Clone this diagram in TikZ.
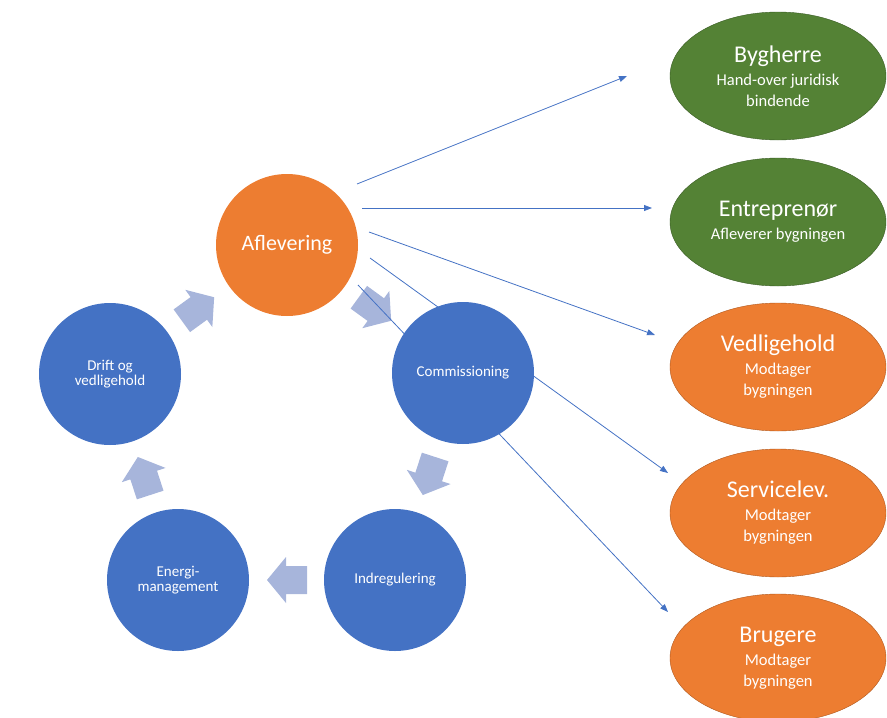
\documentclass[tikz,border=0pt]{standalone}
\usepackage{fontspec}
\setmainfont{Carlito}
\usetikzlibrary{shapes.geometric,arrows.meta}

\definecolor{phaseblue}{HTML}{4472C4}
\definecolor{phaseorange}{HTML}{ED7D31}
\definecolor{rolegreen}{HTML}{548235}
\definecolor{rolegreenline}{HTML}{3A5C25}
\definecolor{roleorangeline}{HTML}{B0591F}
\definecolor{flowblue}{RGB}{167,181,219}

\newcommand{\roletitle}[1]{{\fontsize{24}{24}\selectfont #1}}

\tikzset{
  phase/.style={circle, fill=phaseblue, minimum size=142, inner sep=0, text=white,
    align=center, font=\fontsize{15}{15}\selectfont},
  role/.style={ellipse, minimum width=216, minimum height=128, inner sep=0, text=white,
    align=center, font=\fontsize{16.5}{21}\selectfont},
  flow/.pic={\fill[flowblue] (-20,-14) -- (1,-14) -- (1,-23) -- (20,0) -- (1,23)
    -- (1,14) -- (-20,14) -- cycle;},
  link/.style={draw=phaseblue, line width=0.8pt, -{Triangle[length=8pt,width=6pt]}}
}

\begin{document}
\begin{tikzpicture}[x=1pt,y=-1pt]
\useasboundingbox (0,0) rectangle (887,718);

% Block arrows of the cycle
\pic[rotate=-36]  (f1) at (375,309) {flow};
\pic[rotate=-108] (f2) at (429,476) {flow};
\pic[rotate=180]  (f3) at (287,580) {flow};
\pic[rotate=108]  (f4) at (144,476) {flow};
\pic[rotate=36]   (f5) at (198,309) {flow};

% Ends of the hand-over lines
\coordinate (s1) at (357,184); \coordinate (e1) at (627,76);
\coordinate (s2) at (362,208); \coordinate (e2) at (652,208);
\coordinate (s3) at (369,232); \coordinate (e3) at (655,335);
\coordinate (s4) at (370,258); \coordinate (e4) at (668,473);
\coordinate (s5) at (358,285); \coordinate (e5) at (668,612);

\draw[link] (s1) -- (e1);
\draw[link] (s2) -- (e2);
\draw[link] (s3) -- (e3);
\draw[link] (s4) -- (e4);
\draw[link] (s5) -- (e5);

% Cycle of phases
\node[phase, fill=phaseorange, font=\fontsize{22}{22}\selectfont] (aflev) at (287,245) {Aflevering};
\node[phase] (comm)   at (463,373) {Commissioning};
\node[phase] (indreg) at (395,580) {Indregulering};
\node[phase] (energi) at (178,580) {Energi-\\management};
\node[phase] (drift)  at (110,374) {Drift og\\vedligehold};

% Roles on the right
\node[role, fill=rolegreen, draw=rolegreenline] (bygherre) at (778,76)
  {\roletitle{Bygherre}\\[2pt]Hand-over juridisk\\bindende};
\node[role, fill=rolegreen, draw=rolegreenline] (entrep) at (778,222)
  {\roletitle{Entreprenør}\\[2pt]Afleverer bygningen};
\node[role, fill=phaseorange, draw=roleorangeline] (vedlige) at (778,367)
  {\roletitle{Vedligehold}\\[2pt]Modtager\\bygningen};
\node[role, fill=phaseorange, draw=roleorangeline] (service) at (778,513)
  {\roletitle{Servicelev.}\\[2pt]Modtager\\bygningen};
\node[role, fill=phaseorange, draw=roleorangeline] (brugere) at (778,658)
  {\roletitle{Brugere}\\[2pt]Modtager\\bygningen};

\end{tikzpicture}
\end{document}
